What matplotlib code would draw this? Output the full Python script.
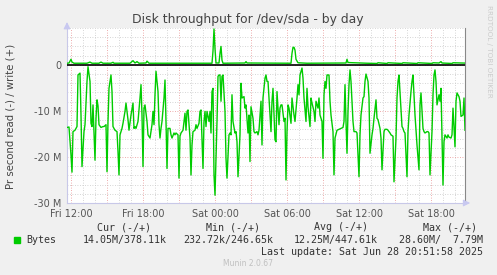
import numpy as np
import pandas as pd
import matplotlib
matplotlib.use("Agg")
import matplotlib.pyplot as plt
import matplotlib.dates as mdates
from matplotlib.ticker import FuncFormatter, MultipleLocator

# Graph start and sample interval (munin 5 minute samples)
start = pd.Timestamp("2025-06-27 11:40")
step_minutes = 5

# Read throughput (MB/s), drawn below zero; step = sample index from start
read_steps = [
    0, 2, 4, 5, 6, 8, 10, 11, 13, 14, 15, 17, 18, 20, 21, 23, 24, 25, 26, 28,
    29, 30, 31, 32, 34, 36, 37, 39, 40, 41, 42, 44, 45, 46, 48, 50, 51, 52, 53, 55,
    56, 58, 59, 61, 62, 64, 66, 67,
    68, 69, 71, 73, 74, 75, 76, 77, 78, 80, 81, 83, 84, 85, 86, 87, 88, 89, 91, 92,
    93, 94, 95, 97, 98, 99, 100, 101, 103, 104, 105, 107, 108, 109, 111, 112, 113, 114, 116, 118,
    119, 120, 121, 123, 124, 125, 126, 128, 129, 130, 132, 133,
    134, 136, 137, 138, 139, 140, 142, 143, 144, 145, 146, 147, 148, 150, 151, 152, 153, 154, 155, 156,
    158, 159, 160, 162, 163, 164, 165, 166, 168, 169, 170, 171, 173, 174, 175, 177, 178, 179, 181, 182,
    183, 184, 186, 187, 188, 190, 191, 192, 194, 195, 196, 198, 199, 200,
    201, 203, 204, 205, 206, 208, 209, 210, 212, 213, 214, 215, 217, 218, 219, 220, 221, 222, 224, 225,
    227, 228, 230, 231, 232, 233, 235, 236, 237, 239, 240, 241, 243, 244, 245, 247, 248, 249, 251, 252,
    253, 255, 256, 257, 258, 259, 260, 262, 263, 264, 266, 267, 268,
    270, 272, 274, 276, 277, 278, 279, 280, 281, 282, 283, 284, 286, 287, 289, 290, 292, 293, 294, 296,
    297, 298, 299, 301, 302, 303, 305, 306, 307, 309, 310, 311, 313, 314, 315, 317, 318, 320, 321, 323,
    324, 326, 327, 329, 330, 331, 332, 333, 335,
    336, 337, 338, 340, 341, 342, 344, 345, 346, 348, 349, 350, 352, 353, 354, 356, 357, 358, 360, 361,
    362, 363, 365, 366, 367, 368, 369, 370, 372, 373, 374, 376, 377, 378, 380, 381, 382, 384, 385, 386,
    388, 389, 390, 392, 393, 394, 396, 397, 398,
]
read_mb = [
    13.6, 13.5, 19.6, 23.3, 14.5, 14.2, 13.4, 2.2, 1.8, 10.9, 22.1, 14.5, 13.0, 3.6, 0.4, 3.6, 12.7, 13.4, 8.7, 20.7,
    11.6, 7.6, 8.9, 13.0, 13.6, 13.4, 13.4, 13.0, 23.2, 12.3, 5.1, 2.2, 5.8, 13.4, 14.2, 14.5, 18.8, 23.9, 15.2, 13.8,
    12.7, 10.1, 8.3, 11.9, 14.2, 10.9, 8.3, 13.8,
    13.4, 13.8, 12.3, 7.2, 4.3, 10.9, 22.1, 9.4, 8.7, 12.3, 15.2, 15.9, 14.5, 13.0, 10.1, 13.0, 6.5, 1.4, 5.8, 13.0,
    15.9, 13.8, 12.3, 7.2, 3.3, 12.3, 22.5, 13.8, 13.8, 15.2, 15.9, 14.8, 15.2, 14.8, 15.2, 24.6, 15.5, 14.8, 14.2, 10.5,
    14.2, 10.1, 9.8, 15.9, 23.9, 17.4, 14.5, 14.2, 13.0, 13.8, 12.7, 10.1,
    9.8, 22.5, 12.3, 10.1, 13.4, 10.1, 12.3, 10.1, 14.8, 5.8, 5.1, 23.9, 28.3, 12.3, 2.5, 2.2, 2.2, 7.9, 2.5, 2.2,
    10.1, 20.3, 24.6, 15.2, 14.8, 15.2, 6.5, 12.3, 14.8, 14.5, 16.7, 24.3, 15.2, 4.0, 7.2, 6.9, 9.4, 8.7, 14.8, 10.9,
    21.0, 9.1, 11.6, 14.5, 14.8, 14.5, 15.2, 14.2, 7.9, 17.4, 7.2, 2.9, 2.2, 3.6,
    3.6, 10.9, 14.5, 7.9, 5.1, 16.3, 16.7, 5.8, 13.0, 9.4, 8.7, 8.7, 12.3, 11.6, 25.0, 14.5, 8.7, 9.4, 12.7, 7.2,
    10.9, 12.3, 7.2, 4.3, 6.5, 2.2, 0.7, 2.9, 7.2, 12.3, 5.1, 9.1, 13.4, 7.2, 8.3, 10.1, 12.3, 7.9, 9.4, 7.2,
    10.9, 12.3, 20.3, 6.5, 3.6, 5.1, 2.2, 2.2, 7.9, 10.9, 14.5, 23.9, 15.9,
    14.2, 14.0, 13.8, 13.6, 12.3, 4.3, 12.3, 19.2, 10.1, 4.3, 1.1, 3.6, 12.3, 14.5, 14.5, 14.8, 24.3, 15.2, 10.9, 7.2,
    6.9, 3.6, 2.0, 3.6, 7.2, 19.2, 15.2, 13.8, 11.6, 7.6, 11.6, 11.9, 13.8, 15.9, 22.8, 14.5, 14.0, 14.0, 14.2, 14.8,
    15.2, 15.5, 25.4, 15.9, 7.2, 3.6, 2.2, 5.8, 13.4,
    13.8, 14.5, 14.8, 24.3, 14.5, 10.9, 5.8, 3.6, 2.2, 10.9, 14.2, 17.4, 22.8, 8.7, 6.1, 13.8, 14.5, 14.8, 14.5, 14.5,
    14.8, 23.9, 14.5, 6.5, 2.2, 1.1, 3.6, 8.7, 6.5, 7.9, 5.1, 26.1, 16.7, 15.2, 15.9, 15.2, 15.7, 15.9, 15.2, 9.4,
    17.8, 7.9, 6.1, 6.9, 7.9, 11.2, 10.9, 7.2, 14.2,
]

# Write throughput (MB/s), drawn above zero
write_steps = [
    0, 2, 4, 5, 7, 20, 23, 25, 32, 34, 36, 44, 46, 47, 58, 63, 66, 68, 70, 72,
    79, 80, 82, 100, 145, 146, 147, 148, 149, 152, 153, 154, 155, 156, 178, 179, 180, 224, 225, 226,
    227, 228, 229, 231, 240, 279, 280, 281, 300, 310, 311, 320, 321, 335, 336, 350, 351, 365, 366, 372,
    374, 375, 385, 386, 398,
]
write_mb = [
    0.35, 0.40, 1.20, 0.60, 0.35, 0.35, 0.60, 0.35, 0.35, 0.60, 0.35, 0.35, 0.55, 0.35, 0.35, 0.35, 0.90, 0.40, 0.70, 0.35,
    0.40, 0.80, 0.35, 0.35, 0.35, 3.00, 7.79, 3.50, 0.40, 0.40, 2.50, 4.00, 1.00, 0.35, 0.40, 0.70, 0.40, 0.35, 2.50, 3.80,
    3.80, 3.20, 1.20, 0.45, 0.35, 0.40, 1.20, 0.50, 0.35, 0.30, 0.45, 0.30, 0.45, 0.30, 0.45, 0.30, 0.45, 0.30, 0.45, 0.40,
    0.70, 0.40, 0.30, 0.45, 0.38,
]

# Legend text
columns = ["Cur (-/+)", "Min (-/+)", "Avg (-/+)", "Max (-/+)"]
bytes_row = ["14.05M/378.11k", "232.72k/246.65k", "12.25M/447.61k", "28.60M/  7.79M"]
last_update = "Last update: Sat Jun 28 20:51:58 2025"

green = "#00CC00"
bg = "#F0F0F0"

t_read = start + pd.to_timedelta(np.array(read_steps) * step_minutes, unit="min")
t_write = start + pd.to_timedelta(np.array(write_steps) * step_minutes, unit="min")
t_end = start + pd.Timedelta(minutes=398 * step_minutes)

fig = plt.figure(figsize=(4.97, 2.75), dpi=100, facecolor=bg)
ax = fig.add_axes([67 / 497, 1 - 203 / 275, 398 / 497, 175 / 275])
ax.set_facecolor("white")

ax.plot(t_read, -np.array(read_mb), color=green, lw=1.0, zorder=3)
ax.axhline(0, color="black", lw=1.2, zorder=3)
ax.plot(t_write, write_mb, color=green, lw=1.0, zorder=4)

ax.set_xlim(start, t_end)
ax.set_ylim(-30, 8)

# grid: red major, grey minor, dotted
ax.xaxis.set_major_locator(mdates.HourLocator(byhour=range(0, 24, 3)))
ax.xaxis.set_minor_locator(mdates.HourLocator())


def xfmt(x, pos):
    d = mdates.num2date(x)
    return d.strftime("%a %H:%M") if d.hour % 6 == 0 else ""


ax.xaxis.set_major_formatter(FuncFormatter(xfmt))
ax.yaxis.set_major_locator(MultipleLocator(10))
ax.yaxis.set_minor_locator(MultipleLocator(2))
ax.yaxis.set_major_formatter(FuncFormatter(lambda v, p: "0" if v == 0 else f"{v:.0f} M"))

ax.grid(which="minor", color="#c8c8c8", ls=(0, (1, 2)), lw=0.6)
ax.grid(which="major", color="#e89090", ls=(0, (1, 2)), lw=0.6)
ax.set_axisbelow(True)

ax.tick_params(which="both", length=0, labelsize=7, labelcolor="#555555", pad=4)

ax.spines["top"].set_visible(False)
ax.spines["right"].set_color("#888888")
ax.spines["left"].set_color("#c8c8e8")
ax.spines["bottom"].set_color("#c8c8e8")

# axis arrows
ax.annotate("", xy=(0, 1.05), xytext=(0, 0.99), xycoords="axes fraction",
            arrowprops=dict(arrowstyle="-|>", color="#c8c8f0", lw=0.8))
ax.annotate("", xy=(1.02, 0), xytext=(0.995, 0), xycoords="axes fraction",
            arrowprops=dict(arrowstyle="-|>", color="#c8c8f0", lw=0.8))

fig.text(248 / 497, 1 - 19 / 275, "Disk throughput for /dev/sda - by day",
         ha="center", va="center", fontsize=8.9, color="#444444")
fig.text(11 / 497, 1 - 116 / 275, "Pr second read (-) / write (+)",
         rotation=90, ha="center", va="center", fontsize=7.3, color="#444444")
fig.text(489 / 497, 1 - 5 / 275, "RRDTOOL / TOBI OETIKER", rotation=270,
         ha="center", va="top", fontsize=5.2, color="#cccccc")

mono = dict(family="DejaVu Sans Mono", fontsize=7.2, color="#333333")
col_right = [151, 260, 368, 477]
row_right = [167, 273, 378, 483]
for c, xr in zip(columns, col_right):
    fig.text(xr / 497, 1 - 227 / 275, c, ha="right", va="center", **mono)
fig.patches.append(plt.Rectangle((14 / 497, 1 - 243 / 275), 6 / 497, 6 / 275,
                                 transform=fig.transFigure, color=green))
fig.text(26 / 497, 1 - 240 / 275, "Bytes", ha="left", va="center", **mono)
for v, xr in zip(bytes_row, row_right):
    fig.text(xr / 497, 1 - 240 / 275, v, ha="right", va="center", **mono)
fig.text(483 / 497, 1 - 252 / 275, last_update, ha="right", va="center", **mono)
fig.text(248 / 497, 1 - 264 / 275, "Munin 2.0.67", ha="center", va="center",
         fontsize=5.5, color="#c0c0c0")

fig.savefig("out.png", dpi=100, facecolor=bg)
